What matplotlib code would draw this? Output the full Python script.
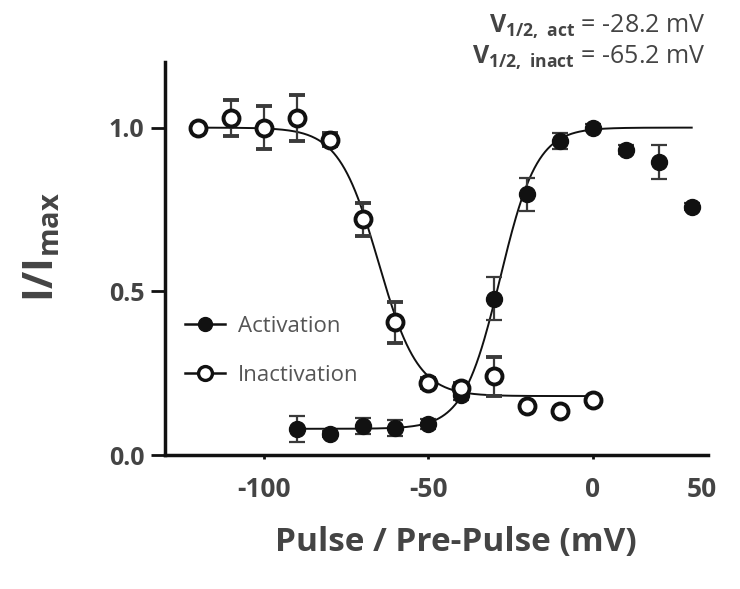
import numpy as np
import matplotlib
matplotlib.use("Agg")
import matplotlib.pyplot as plt

plt.rcParams['font.family'] = ['Open Sans', 'DejaVu Sans']
plt.rcParams['mathtext.fontset'] = 'custom'
plt.rcParams['mathtext.rm'] = 'Open Sans'
plt.rcParams['mathtext.bf'] = 'Open Sans:bold'

# inactivation (open circles)
v_inact = [-120, -110, -100, -90, -80, -70, -60, -50, -40, -30, -20, -10, 0]
i_inact = [1.00, 1.03, 1.00, 1.03, 0.963, 0.72, 0.405, 0.22, 0.204, 0.24, 0.149, 0.134, 0.168]
e_inact = [0.0, 0.055, 0.065, 0.07, 0.02, 0.05, 0.063, 0.015, 0.015, 0.06, 0.01, 0.01, 0.01]

# activation (filled circles)
v_act = [-90, -80, -70, -60, -50, -40, -30, -20, -10, 0, 10, 20, 30]
i_act = [0.079, 0.064, 0.088, 0.082, 0.095, 0.183, 0.478, 0.796, 0.96, 1.0, 0.933, 0.896, 0.759]
e_act = [0.04, 0.01, 0.025, 0.025, 0.015, 0.015, 0.065, 0.05, 0.025, 0.01, 0.015, 0.052, 0.01]

# Boltzmann fit parameters
vhalf_act, k_act, lo_act = -28.2, 5.6, 0.08
vhalf_inact, k_inact, lo_inact = -65.2, 6.0, 0.18

xticks = [-100, -50, 0, 33]
xticklabels = ['-100', '-50', '0', '50']
yticks = [0.0, 0.5, 1.0]
yticklabels = ['0.0', '0.5', '1.0']

txt = '#444444'
ink = '#111111'

fig = plt.figure(figsize=(7.4, 5.89), dpi=100)
ax = fig.add_axes([0.223, 0.2275, 0.734, 0.667])

va = np.linspace(-90, 30, 300)
fa = lo_act + (1 - lo_act) / (1 + np.exp((vhalf_act - va) / k_act))
vi = np.linspace(-120, 0, 300)
fi = lo_inact + (1 - lo_inact) / (1 + np.exp((vi - vhalf_inact) / k_inact))
ax.plot(va, fa, color=ink, lw=1.4, zorder=2)
ax.plot(vi, fi, color=ink, lw=1.4, zorder=2)

ax.errorbar(v_act, i_act, yerr=e_act, fmt='o', ms=11.5, color=ink, mfc=ink, mec=ink,
            ecolor='#3a3a3a', elinewidth=1.6, capsize=6, capthick=1.6, zorder=3)
ax.errorbar(v_inact, i_inact, yerr=e_inact, fmt='o', ms=11.5, color=ink, mfc='white', mec=ink,
            mew=2.8, ecolor='#3a3a3a', elinewidth=1.6, capsize=6, capthick=1.6, zorder=3)

h1, = ax.plot([], [], '-o', color=ink, ms=10, lw=1.8, mfc=ink)
h2, = ax.plot([], [], '-o', color=ink, ms=10, lw=1.8, mfc='white', mew=2.4)
leg = ax.legend([h1, h2], ['Activation', 'Inactivation'], loc='center left',
                bbox_to_anchor=(0.0, 0.265), frameon=False, fontsize=16,
                handlelength=1.8, handletextpad=0.6, labelspacing=1.25)
for t in leg.get_texts():
    t.set_color('#555555')

ax.set_xlim(-130, 35)
ax.set_ylim(0, 1.2)
ax.set_xticks(xticks, xticklabels)
ax.set_yticks(yticks, yticklabels)
ax.xaxis.get_major_ticks()[-1].tick1line.set_visible(False)
ax.tick_params(axis='x', length=3, width=2, colors=ink, labelcolor=txt,
               labelsize=19, pad=12)
ax.tick_params(axis='y', length=10, width=2, colors=ink, labelcolor=txt,
               labelsize=18, pad=5)
for lab in ax.get_xticklabels() + ax.get_yticklabels():
    lab.set_fontweight('bold')

for s in ['top', 'right']:
    ax.spines[s].set_visible(False)
for s in ['left', 'bottom']:
    ax.spines[s].set_linewidth(2.5)
    ax.spines[s].set_color(ink)

ax.set_xlabel('Pulse / Pre-Pulse (mV)', fontsize=24, fontweight='bold', color=txt)
ax.xaxis.set_label_coords(0.536, -0.222, transform=ax.transAxes)
ax.set_ylabel(r'I/I$_{\mathbf{max}}$', fontsize=30, fontweight='bold', color=txt)
ax.yaxis.set_label_coords(-0.226, 0.53, transform=ax.transAxes)
ax.yaxis.label.set_va('center')
ax.xaxis.label.set_va('center')

fig.text(0.953, 0.945, r'$\mathbf{V_{1/2,\ act}}$ = -28.2 mV', ha='right', va='baseline',
         fontsize=18, color=txt)
fig.text(0.953, 0.892, r'$\mathbf{V_{1/2,\ inact}}$ = -65.2 mV', ha='right', va='baseline',
         fontsize=18, color=txt)

fig.savefig('out.png', dpi=100)
